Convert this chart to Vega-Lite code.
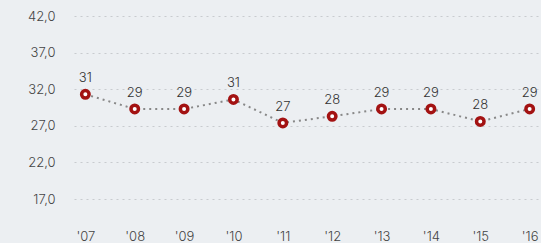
{
  "$schema": "https://vega.github.io/schema/vega-lite/v6.json",
  "width": 467,
  "height": 205,
  "autosize": {"type": "none"},
  "padding": {"left": 74, "top": 16, "right": 0, "bottom": 22},
  "background": "#eceff2",
  "config": {"view": {"stroke": null}, "font": "Inter"},
  "data": {"values": [
    {"year": "'07", "value": 31.3},
    {"year": "'08", "value": 29.3},
    {"year": "'09", "value": 29.3},
    {"year": "'10", "value": 30.6},
    {"year": "'11", "value": 27.4},
    {"year": "'12", "value": 28.3},
    {"year": "'13", "value": 29.3},
    {"year": "'14", "value": 29.3},
    {"year": "'15", "value": 27.6},
    {"year": "'16", "value": 29.3}
  ]},
  "encoding": {
    "x": {"field": "year", "type": "ordinal", "sort": null,
      "scale": {"type": "point", "padding": 0.23},
      "axis": {"title": null, "labelAngle": 0, "domain": false, "ticks": false, "grid": false,
        "labelFontSize": 13, "labelFontWeight": 300, "labelColor": "#444", "labelPadding": 9}},
    "y": {"field": "value", "type": "quantitative",
      "scale": {"domain": [14, 42], "nice": false, "zero": false},
      "axis": {"title": null, "values": [17, 22, 27, 32, 37, 42], "format": ".1f",
        "labelExpr": "replace(datum.label, '.', ',')",
        "domain": false, "ticks": false, "labelPadding": 19,
        "labelFontSize": 13, "labelFontWeight": 300, "labelColor": "#444",
        "gridColor": "#c8cbcf", "gridDash": [2, 4], "gridWidth": 1}}
  },
  "layer": [
    {"mark": {"type": "line", "color": "#888", "strokeDash": [2, 4], "strokeWidth": 2}},
    {"mark": {"type": "point", "filled": false, "fill": "white", "fillOpacity": 1, "stroke": "#a31212", "strokeWidth": 3.5, "size": 56, "opacity": 1}},
    {"mark": {"type": "text", "dy": -16, "fontSize": 13, "fontWeight": 300, "color": "#333"},
      "encoding": {"text": {"field": "value", "type": "quantitative", "format": ".0f"}}}
  ]
}
